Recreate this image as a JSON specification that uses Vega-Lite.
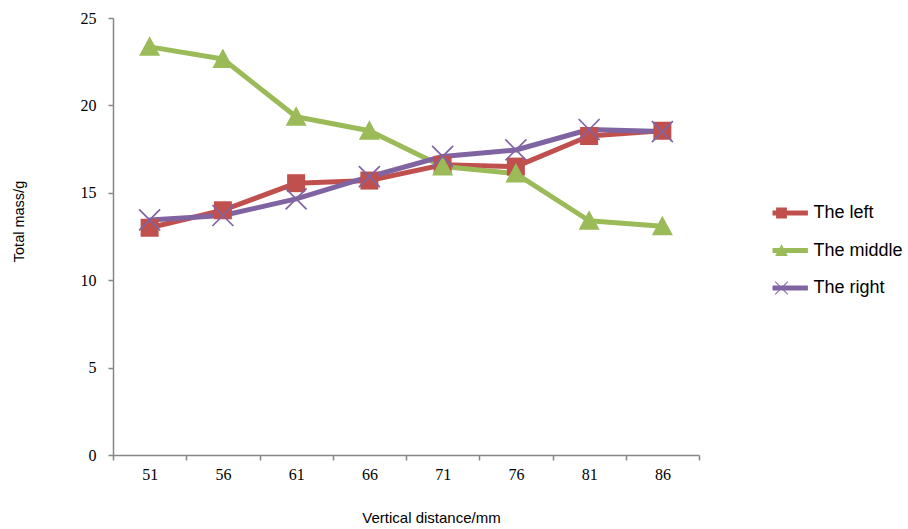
{
  "$schema": "https://vega.github.io/schema/vega-lite/v6.json",
  "width": 586,
  "height": 437,
  "autosize": "none",
  "padding": {"left": 113, "top": 18, "right": 209, "bottom": 74},
  "background": "white",
  "config": {"view": {"stroke": null}},
  "data": {
    "values": [
      {"distance": 51, "series": "The left", "mass": 13.0},
      {"distance": 56, "series": "The left", "mass": 14.0},
      {"distance": 61, "series": "The left", "mass": 15.55},
      {"distance": 66, "series": "The left", "mass": 15.7},
      {"distance": 71, "series": "The left", "mass": 16.6},
      {"distance": 76, "series": "The left", "mass": 16.5},
      {"distance": 81, "series": "The left", "mass": 18.25},
      {"distance": 86, "series": "The left", "mass": 18.55},
      {"distance": 51, "series": "The middle", "mass": 23.35},
      {"distance": 56, "series": "The middle", "mass": 22.65},
      {"distance": 61, "series": "The middle", "mass": 19.35},
      {"distance": 66, "series": "The middle", "mass": 18.55},
      {"distance": 71, "series": "The middle", "mass": 16.5},
      {"distance": 76, "series": "The middle", "mass": 16.1},
      {"distance": 81, "series": "The middle", "mass": 13.4},
      {"distance": 86, "series": "The middle", "mass": 13.08},
      {"distance": 51, "series": "The right", "mass": 13.45},
      {"distance": 56, "series": "The right", "mass": 13.7},
      {"distance": 61, "series": "The right", "mass": 14.65},
      {"distance": 66, "series": "The right", "mass": 15.92},
      {"distance": 71, "series": "The right", "mass": 17.08},
      {"distance": 76, "series": "The right", "mass": 17.45},
      {"distance": 81, "series": "The right", "mass": 18.62},
      {"distance": 86, "series": "The right", "mass": 18.5}
    ]
  },
  "encoding": {
    "x": {
      "field": "distance",
      "type": "ordinal",
      "scale": {"paddingInner": 0, "paddingOuter": 0},
      "axis": {
        "title": "Vertical distance/mm",
        "labelAngle": 0,
        "labelFont": "Liberation Serif",
        "labelFontSize": 16,
        "labelColor": "#000000",
        "labelPadding": 6,
        "domainColor": "#868686",
        "domainWidth": 1.5,
        "tickColor": "#868686",
        "tickWidth": 1.5,
        "tickSize": 5,
        "tickBand": "extent",
        "grid": false,
        "titleFont": "Liberation Sans",
        "titleFontSize": 15,
        "titleFontWeight": "normal",
        "titleColor": "#000000",
        "titleX": 318,
        "titleY": 62,
        "titleBaseline": "middle"
      }
    },
    "y": {
      "field": "mass",
      "type": "quantitative",
      "scale": {"domain": [0, 25], "nice": false, "zero": true},
      "axis": {
        "title": "Total mass/g",
        "values": [0, 5, 10, 15, 20, 25],
        "grid": false,
        "labelFont": "Liberation Serif",
        "labelFontSize": 16,
        "labelColor": "#000000",
        "labelPadding": 12,
        "domainColor": "#868686",
        "domainWidth": 1.5,
        "tickColor": "#868686",
        "tickWidth": 1.5,
        "tickSize": 5,
        "titleFont": "Liberation Sans",
        "titleFontSize": 14.5,
        "titleFontWeight": "normal",
        "titleColor": "#000000",
        "titleX": -94,
        "titleY": 203,
        "titleBaseline": "middle",
        "titleAngle": -90
      }
    }
  },
  "layer": [
    {
      "mark": {"type": "line", "strokeWidth": 5, "strokeJoin": "round", "strokeCap": "round"},
      "encoding": {
        "stroke": {
          "field": "series",
          "type": "nominal",
          "scale": {
            "domain": ["The left", "The middle", "The right"],
            "range": ["#C0504D", "#9BBB59", "#8064A2"]
          },
          "legend": {
            "orient": "none",
            "legendX": 659.5,
            "legendY": 185,
            "zindex": 1,
            "title": null,
            "direction": "vertical",
            "symbolType": "M-4.4,0H4.4",
            "symbolSize": 144,
            "symbolStrokeWidth": 5,
            "clipHeight": 20,
            "labelOffset": 23,
            "rowPadding": 17.5,
            "labelFont": "Liberation Sans",
            "labelFontSize": 18,
            "labelColor": "#000000",
            "labelBaseline": "middle"
          }
        }
      }
    },
    {
      "mark": {
        "type": "point",
        "filled": true,
        "opacity": 1,
        "size": 400,
        "strokeWidth": 0
      },
      "encoding": {
        "color": {
          "field": "series",
          "type": "nominal",
          "scale": {"range": ["#C0504D", "#9BBB59", "#8064A2"]},
          "legend": {
            "orient": "none",
            "legendX": 659.5,
            "legendY": 185,
            "zindex": 2,
            "title": null,
            "direction": "vertical",
            "symbolSize": 144,
            "symbolStrokeWidth": 0,
            "symbolOpacity": 1,
            "clipHeight": 20,
            "labelOffset": 23,
            "rowPadding": 17.5,
            "labelFontSize": 18,
            "labelExpr": "''"
          }
        },
        "shape": {
          "field": "series",
          "type": "nominal",
          "scale": {
            "range": [
              "M-0.9,-0.9H0.9V0.9H-0.9Z",
              "M0,-1.05L1.05,0.9H-1.05Z",
              "M-0.99,-1.11L1.11,0.99L0.99,1.11L-1.11,-0.99Z M-1.11,0.99L0.99,-1.11L1.11,-0.99L-0.99,1.11Z"
            ]
          },
          "legend": {
            "orient": "none",
            "legendX": 659.5,
            "legendY": 185,
            "zindex": 2,
            "title": null,
            "direction": "vertical",
            "symbolSize": 144,
            "symbolStrokeWidth": 0,
            "symbolOpacity": 1,
            "clipHeight": 20,
            "labelOffset": 23,
            "rowPadding": 17.5,
            "labelFontSize": 18,
            "labelExpr": "''"
          }
        }
      }
    }
  ]
}
